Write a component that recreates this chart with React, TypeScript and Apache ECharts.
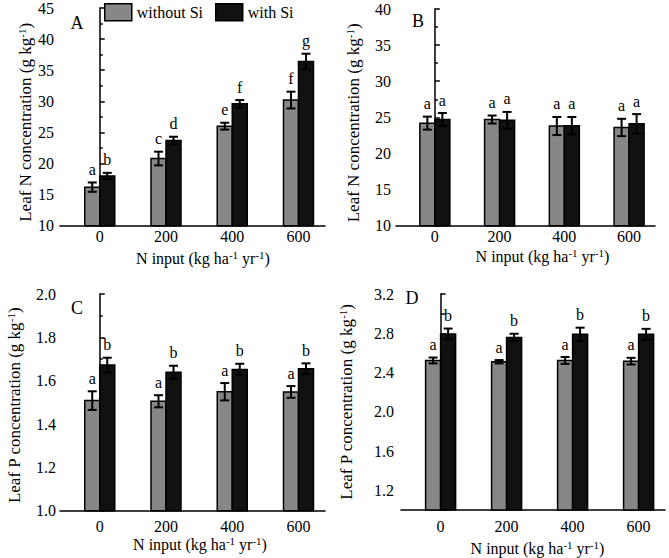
import React, { useEffect, useRef } from "react";
import * as echarts from "echarts";

const FONT = "Liberation Serif";

// N input levels (kg ha-1 yr-1)
const nInputs = [0, 200, 400, 600];
const seriesNames = ["without Si", "with Si"];

// Panel A: leaf N concentration (g kg-1)
const aWithout = [16.2, 20.8, 26.0, 30.2];
const aWithoutErr = [0.75, 1.1, 0.55, 1.35];
const aWith = [18.0, 23.7, 29.6, 36.4];
const aWithErr = [0.5, 0.6, 0.6, 1.25];
const aWithoutLetters = ["a", "c", "e", "f"];
const aWithLetters = ["b", "d", "f", "g"];

// Panel B: leaf N concentration (g kg-1)
const bWithout = [24.2, 24.7, 23.8, 23.6];
const bWithoutErr = [0.9, 0.55, 1.25, 1.2];
const bWith = [24.7, 24.6, 23.85, 24.1];
const bWithErr = [0.9, 1.15, 1.2, 1.35];
const bWithoutLetters = ["a", "a", "a", "a"];
const bWithLetters = ["a", "a", "a", "a"];

// Panel C: leaf P concentration (g kg-1)
const cWithout = [1.508, 1.505, 1.549, 1.548];
const cWithoutErr = [0.043, 0.028, 0.04, 0.027];
const cWith = [1.672, 1.639, 1.652, 1.655];
const cWithErr = [0.034, 0.03, 0.026, 0.025];
const cWithoutLetters = ["a", "a", "a", "a"];
const cWithLetters = ["b", "b", "b", "b"];

// Panel D: leaf P concentration (g kg-1)
const dWithout = [2.523, 2.51, 2.523, 2.516];
const dWithoutErr = [0.03, 0.017, 0.035, 0.034];
const dWith = [2.793, 2.758, 2.79, 2.79];
const dWithErr = [0.055, 0.037, 0.067, 0.055];
const dWithoutLetters = ["a", "a", "a", "a"];
const dWithLetters = ["b", "b", "b", "b"];

const GRAY = "#878787";
const BLACK = "#111111";

function makeRender(side: number, yMin: number, letters: string[], fill: string) {
  return (params: any, api: any) => {
    const x = api.value(0);
    const v = api.value(1);
    const e = api.value(2);
    const pTop = api.coord([x, v]);
    const pBase = api.coord([x, yMin]);
    const pHi = api.coord([x, v + e]);
    const pLo = api.coord([x, v - e]);
    const bw = 15;
    const left = side === 0 ? pTop[0] - bw : pTop[0];
    const cx = left + bw / 2;
    const cap = 4.5;
    const ls = { stroke: "#000", lineWidth: 2 };
    return {
      type: "group",
      children: [
        {
          type: "rect",
          shape: { x: left, y: pTop[1], width: bw, height: pBase[1] - pTop[1] },
          style: { fill, stroke: "#000", lineWidth: 1.5 },
        },
        { type: "line", shape: { x1: cx, y1: pHi[1], x2: cx, y2: pLo[1] }, style: ls },
        { type: "line", shape: { x1: cx - cap, y1: pHi[1], x2: cx + cap, y2: pHi[1] }, style: ls },
        { type: "line", shape: { x1: cx - cap, y1: pLo[1], x2: cx + cap, y2: pLo[1] }, style: ls },
        {
          type: "text",
          style: {
            text: letters[params.dataIndex],
            x: cx,
            y: pHi[1] - 13,
            fill: "#000",
            fontSize: 16,
            fontFamily: FONT,
            align: "center",
            verticalAlign: "middle",
            textAlign: "center",
            textVerticalAlign: "middle",
          },
        },
      ],
    };
  };
}

type PanelCfg = {
  grid: any;
  yMin: number;
  yMax: number;
  yInterval: number;
  minor: boolean;
  decimals: number;
  labelFilter?: (v: number) => boolean;
  yName: string;
  yNameGap: number;
  yNamePad: number[];
  yLabelMargin: number;
  xNameGap: number;
  xNamePad: number[];
  xLabelMargin: number;
  without: number[];
  withoutErr: number[];
  withV: number[];
  withErr: number[];
  withoutLetters: string[];
  withLetters: string[];
};

const supRich = {
  s: { fontSize: 11, fontFamily: FONT, color: "#000", verticalAlign: "top", lineHeight: 10 },
};

function buildPanel(i: number, c: PanelCfg) {
  const grid = { ...c.grid, containLabel: false };
  const xAxis = {
    type: "value",
    gridIndex: i,
    min: -120,
    max: 680,
    splitLine: { show: false },
    axisTick: { show: false },
    axisLine: { lineStyle: { color: "#000", width: 1.5 } },
    axisLabel: {
      customValues: nInputs,
      color: "#000",
      fontSize: 16,
      fontFamily: FONT,
      margin: c.xLabelMargin,
      formatter: (v: number) => String(v),
    },
    name: "N input (kg ha{s|-1} yr{s|-1})",
    nameLocation: "middle",
    nameGap: c.xNameGap,
    nameTextStyle: {
      color: "#000",
      fontSize: 16,
      fontFamily: FONT,
      lineHeight: 18,
      padding: c.xNamePad,
      rich: supRich,
    },
  };
  const yAxis = {
    type: "value",
    gridIndex: i,
    min: c.yMin,
    max: c.yMax,
    interval: c.yInterval,
    splitLine: { show: false },
    axisLine: { show: true, lineStyle: { color: "#000", width: 1.5 } },
    axisTick: { show: true, inside: true, length: 5, lineStyle: { color: "#000", width: 1.5 } },
    minorTick: { show: c.minor, splitNumber: 2, length: 3, lineStyle: { color: "#000", width: 1.5 } },
    axisLabel: {
      color: "#000",
      fontSize: 16,
      fontFamily: FONT,
      margin: c.yLabelMargin,
      formatter: (v: number) => {
        if (c.labelFilter && !c.labelFilter(v)) return "";
        return v.toFixed(c.decimals);
      },
    },
    name: c.yName,
    nameLocation: "middle",
    nameGap: c.yNameGap,
    nameTextStyle: {
      color: "#000",
      fontSize: 17,
      fontFamily: FONT,
      lineHeight: 18,
      padding: c.yNamePad,
      rich: supRich,
    },
  };
  const mk = (vals: number[], errs: number[]) => nInputs.map((x, k) => [x, vals[k], errs[k]]);
  const series = [
    {
      type: "custom",
      name: seriesNames[0],
      xAxisIndex: i,
      yAxisIndex: i,
      encode: { x: 0, y: 1 },
      itemStyle: { color: GRAY, borderColor: "#000", borderWidth: 1.5 },
      renderItem: makeRender(0, c.yMin, c.withoutLetters, GRAY),
      data: mk(c.without, c.withoutErr),
      silent: true,
    },
    {
      type: "custom",
      name: seriesNames[1],
      xAxisIndex: i,
      yAxisIndex: i,
      encode: { x: 0, y: 1 },
      itemStyle: { color: BLACK, borderColor: "#000", borderWidth: 1.5 },
      renderItem: makeRender(1, c.yMin, c.withLetters, BLACK),
      data: mk(c.withV, c.withErr),
      silent: true,
    },
  ];
  return { grid, xAxis, yAxis, series };
}

const panels: PanelCfg[] = [
  {
    grid: { left: 60, top: 8, width: 265, height: 217.7 },
    yMin: 10, yMax: 45, yInterval: 5, minor: true, decimals: 0,
    yName: "Leaf N concentration (g kg{s|-1})", yNameGap: 26, yNamePad: [0, 11, 0, 0], yLabelMargin: 6,
    xNameGap: 23.5, xNamePad: [0, 0, 0, 21], xLabelMargin: 3,
    without: aWithout, withoutErr: aWithoutErr, withV: aWith, withErr: aWithErr,
    withoutLetters: aWithoutLetters, withLetters: aWithLetters,
  },
  {
    grid: { left: 396, top: 9, width: 259, height: 216.7 },
    yMin: 10, yMax: 40, yInterval: 5, minor: true, decimals: 0,
    yName: "Leaf N concentration (g kg{s|-1})", yNameGap: 34, yNamePad: [0, 11, 0, 0], yLabelMargin: 5,
    xNameGap: 22, xNamePad: [0, 0, 0, 34], xLabelMargin: 3,
    without: bWithout, withoutErr: bWithoutErr, withV: bWith, withErr: bWithErr,
    withoutLetters: bWithoutLetters, withLetters: bWithLetters,
  },
  {
    grid: { left: 60, top: 294, width: 265, height: 216.7 },
    yMin: 1.0, yMax: 2.0, yInterval: 0.2, minor: true, decimals: 1,
    yName: "Leaf P concentration (g kg{s|-1})", yNameGap: 37, yNamePad: [0, 6, 0, 0], yLabelMargin: 4,
    xNameGap: 23.5, xNamePad: [0, 0, 0, 15], xLabelMargin: 8,
    without: cWithout, withoutErr: cWithoutErr, withV: cWith, withErr: cWithErr,
    withoutLetters: cWithoutLetters, withLetters: cWithLetters,
  },
  {
    grid: { left: 401, top: 294, width: 264, height: 216 },
    yMin: 1.0, yMax: 3.2, yInterval: 0.2, minor: false, decimals: 1,
    labelFilter: (v: number) => Math.round(v * 10) % 4 === 0,
    yName: "Leaf P concentration (g kg{s|-1})", yNameGap: 46, yNamePad: [0, 0, 0, 0], yLabelMargin: 7,
    xNameGap: 29, xNamePad: [0, 0, 0, 9], xLabelMargin: 8,
    without: dWithout, withoutErr: dWithoutErr, withV: dWith, withErr: dWithErr,
    withoutLetters: dWithoutLetters, withLetters: dWithLetters,
  },
];

const panelLetters = ["A", "B", "C", "D"];
const panelLetterPos = [
  [77, 23],
  [418, 21],
  [77, 308],
  [412, 298],
];

export default function App() {
  const ref = useRef<HTMLDivElement>(null);
  useEffect(() => {
    if (!ref.current) return;
    const chart = echarts.init(ref.current, null, { renderer: "svg" });
    const built = panels.map((p, i) => buildPanel(i, p));
    const option: any = {
      animation: false,
      backgroundColor: "#fff",
      textStyle: { fontFamily: FONT },
      legend: {
        left: 104,
        top: 3,
        padding: 0,
        icon: "rect",
        itemWidth: 27,
        itemHeight: 17,
        itemGap: 12,
        selectedMode: false,
        textStyle: { color: "#000", fontSize: 16, fontFamily: FONT },
        data: [
          { name: seriesNames[0], itemStyle: { color: GRAY, borderColor: "#000", borderWidth: 1.5 } },
          { name: seriesNames[1], itemStyle: { color: BLACK, borderColor: "#000", borderWidth: 1.5 } },
        ],
      },
      grid: built.map((b) => b.grid),
      xAxis: built.map((b) => b.xAxis),
      yAxis: built.map((b) => b.yAxis),
      series: built.flatMap((b) => b.series),
      graphic: panelLetters.map((t, i) => ({
        type: "text",
        x: panelLetterPos[i][0],
        y: panelLetterPos[i][1],
        style: {
          text: t,
          fill: "#000",
          fontSize: 18,
          fontFamily: FONT,
          align: "center",
          verticalAlign: "middle",
          textAlign: "center",
          textVerticalAlign: "middle",
        },
      })),
    };
    chart.setOption(option);
    return () => chart.dispose();
  }, []);
  return (
    <div
      ref={ref}
      style={{ position: "fixed", left: 0, top: 0, width: 669, height: 558, background: "#fff" }}
    />
  );
}
